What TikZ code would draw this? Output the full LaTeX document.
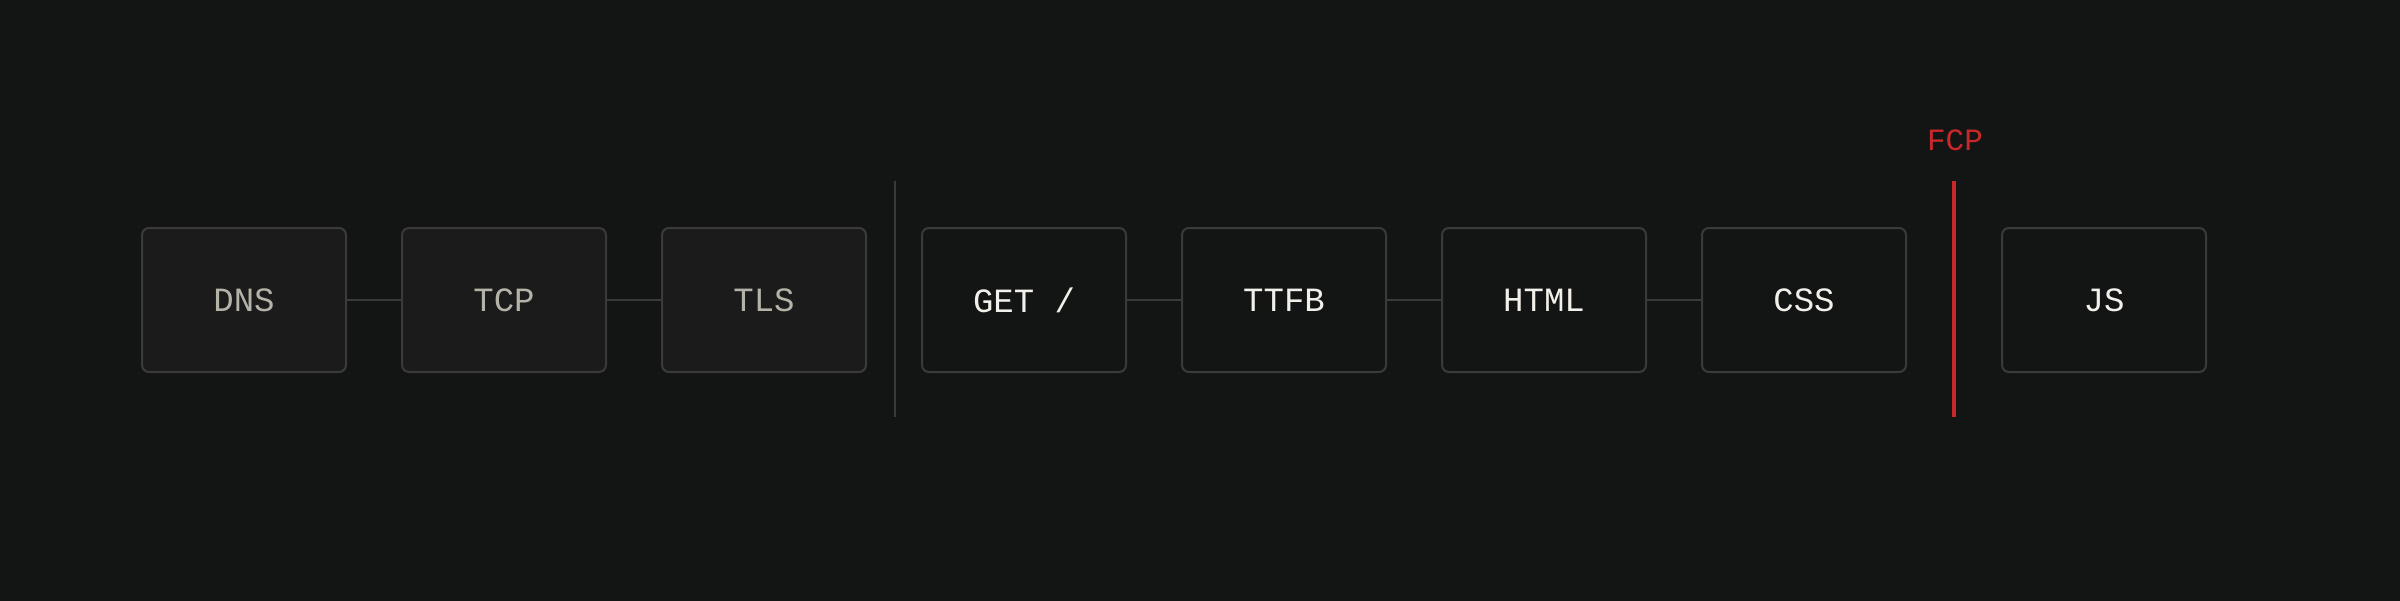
\documentclass[tikz,border=0pt]{standalone}
\usepackage{fontspec}
\setmonofont{Liberation Mono}
\definecolor{bgc}{HTML}{131514}
\definecolor{dimfill}{HTML}{1B1B1B}
\definecolor{edgec}{HTML}{3A3A3A}
\definecolor{dimtext}{HTML}{B5B2A8}
\definecolor{brighttext}{HTML}{F2F0EA}
\definecolor{fcpred}{HTML}{C8282A}
\tikzset{
  stagebox/.style={draw=edgec, line width=2pt, rounded corners=7pt,
    minimum width=204pt, minimum height=144pt, inner sep=0pt,
    font=\ttfamily\fontsize{34}{34}\selectfont},
  donebox/.style={stagebox, fill=dimfill, text=dimtext},
  nextbox/.style={stagebox, fill=bgc, text=brighttext},
  linkline/.style={draw=edgec, line width=2pt},
  sepline/.style={draw=edgec, line width=2pt},
  fcpline/.style={draw=fcpred, line width=4pt},
}
\begin{document}
\begin{tikzpicture}[x=1pt,y=-1pt]
\useasboundingbox (0,0) rectangle (2400,600);
\fill[bgc, overlay] (-10,-10) rectangle (2410,610);
\node[donebox] (dns) at (244,300) {DNS};
\node[donebox] (tcp) at (504,300) {TCP};
\node[donebox] (tls) at (764,300) {TLS};
\node[nextbox] (get) at (1024,300) {GET /};
\node[nextbox] (ttfb) at (1284,300) {TTFB};
\node[nextbox] (html) at (1544,300) {HTML};
\node[nextbox] (css) at (1804,300) {CSS};
\node[nextbox] (js) at (2104,300) {JS};
\draw[linkline] (dns) -- (tcp);
\draw[linkline] (tcp) -- (tls);
\draw[linkline] (get) -- (ttfb);
\draw[linkline] (ttfb) -- (html);
\draw[linkline] (html) -- (css);
\coordinate (septop) at (895,181);
\coordinate (sepbot) at (895,417);
\draw[sepline] (septop) -- (sepbot);
\coordinate (fcptop) at (1954,181);
\coordinate (fcpbot) at (1954,417);
\draw[fcpline] (fcptop) -- (fcpbot);
\node[text=fcpred, font=\ttfamily\fontsize{31}{31}\selectfont] (fcp) at (1955,140) {FCP};
\end{tikzpicture}
\end{document}
